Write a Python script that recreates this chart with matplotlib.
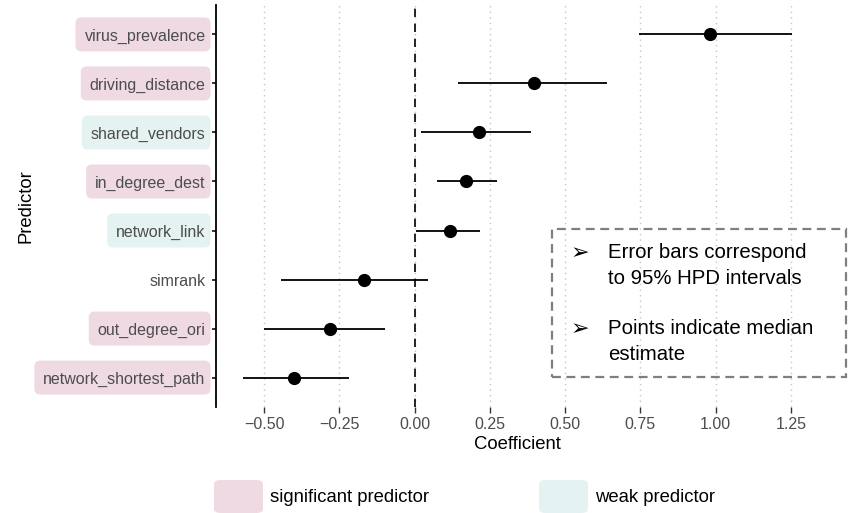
import matplotlib
matplotlib.use("Agg")
import matplotlib.pyplot as plt
from matplotlib.patches import FancyBboxPatch, Rectangle
from matplotlib.transforms import IdentityTransform
import numpy as np

plt.rcParams['font.family'] = ['Liberation Sans', 'DejaVu Sans']

predictors = ["network_shortest_path", "out_degree_ori", "simrank", "network_link",
              "in_degree_dest", "shared_vendors", "driving_distance", "virus_prevalence"]
median = [-0.401, -0.280, -0.167, 0.116, 0.169, 0.213, 0.396, 0.981]
lower = [-0.569, -0.500, -0.444, 0.003, 0.075, 0.020, 0.144, 0.744]
upper = [-0.218, -0.098, 0.044, 0.217, 0.275, 0.385, 0.638, 1.252]
category = ["significant", "significant", "none", "weak",
            "significant", "weak", "significant", "significant"]
xticks = [-0.50, -0.25, 0.00, 0.25, 0.50, 0.75, 1.00, 1.25]
xtick_labels = ["\u22120.50", "\u22120.25", "0.00", "0.25", "0.50", "0.75", "1.00", "1.25"]

PINK = "#EFDAE4"
TEAL = "#E4F3F2"
cat_colors = {"significant": PINK, "weak": TEAL}

W, H = 850, 513
fig = plt.figure(figsize=(W / 100, H / 100), dpi=100)
L, R, T, B = 216, 818, 5, 407
ax = fig.add_axes([L / W, 1 - B / H, (R - L) / W, (B - T) / H])

y = np.arange(1, len(predictors) + 1)

for xv in xticks:
    ax.axvline(xv, color="#C4C4C4", lw=1.0, ls=(0, (1, 3)), zorder=0)
ax.axvline(0, color="black", lw=1.2, ls=(0, (5, 4)), zorder=1)

ax.hlines(y, lower, upper, color="black", lw=1.3, zorder=2)
ax.plot(median, y, "o", color="black", ms=8.5, zorder=3)

ax.set_xlim(-0.66, 1.34)
ax.set_ylim(0.4, 8.6)
ax.set_xticks(xticks)
ax.set_xticklabels(xtick_labels, fontsize=11.5, color="#4D4D4D")
ax.set_yticks(y)
ax.set_yticklabels(predictors, fontsize=11.5, color="#4D4D4D")

for s in ["top", "right", "bottom"]:
    ax.spines[s].set_visible(False)
ax.spines["left"].set_linewidth(1.3)
ax.spines["left"].set_color("black")
ax.tick_params(axis="y", length=3, width=1.1, color="black", pad=4.5)
ax.tick_params(axis="x", length=4, width=1.0, color="#333333", pad=3)

ax.set_xlabel("Coefficient", fontsize=13.3, color="black", labelpad=3)
fig.text(26 / W, 1 - 206 / H, "Predictor", rotation=90, fontsize=13.3,
         ha="center", va="center")

# rounded boxes behind the y tick labels
fig.canvas.draw()
renderer = fig.canvas.get_renderer()
for lab, cat, yv in zip(ax.get_yticklabels(), category, y):
    if cat not in cat_colors:
        continue
    bb = lab.get_window_extent(renderer)
    yc = ax.transData.transform((0, yv))[1]
    x0p = bb.x0 - 9
    x1p = bb.x1 + 5
    h = 34
    fig.patches.append(FancyBboxPatch((x0p, yc - h / 2), x1p - x0p, h,
                                      boxstyle="round,pad=0,rounding_size=6",
                                      transform=IdentityTransform(), fc=cat_colors[cat],
                                      ec="none", zorder=-1))

# annotation box
x0, x1, y0, y1 = 552, 846, 229, 377
fig.patches.append(Rectangle((x0 / W, 1 - y1 / H), (x1 - x0) / W, (y1 - y0) / H,
                             transform=fig.transFigure, fill=False, ec="#7F7F7F",
                             lw=1.6, ls=(0, (4, 2.5))))
for yy in (253, 329):
    fig.text(580 / W, 1 - yy / H, "\u27A2", fontsize=16, ha="center", va="center",
             family=["DejaVu Sans"])
lines = [(253, "Error bars correspond"), (279, "to 95% HPD intervals"),
         (329, "Points indicate median"), (355, "estimate")]
for yy, t in lines:
    fig.text(608 / W, 1 - yy / H, t, fontsize=14.7, ha="left", va="center")

# legend
leg_items = [(214, PINK, "significant predictor"), (539, TEAL, "weak predictor")]
for kx, col, label in leg_items:
    fig.patches.append(FancyBboxPatch((kx / W, 1 - 513 / H), 49 / W, 33 / H,
                                      boxstyle="round,pad=0,rounding_size=0.008",
                                      transform=fig.transFigure, fc=col, ec="none"))
    fig.text((kx + 56) / W, 1 - 497 / H, label, fontsize=13.3, ha="left", va="center")

fig.savefig("out.png", dpi=100)
